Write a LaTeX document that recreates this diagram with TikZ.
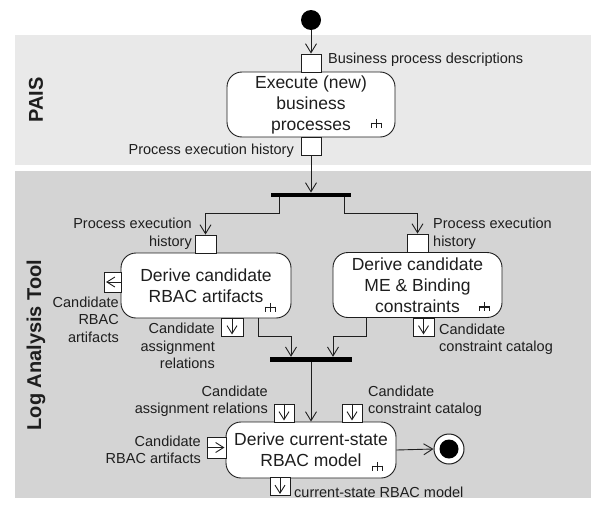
\documentclass[tikz,border=0pt]{standalone}
\usepackage{fontspec}
\setmainfont{Liberation Sans}
\usetikzlibrary{arrows.meta}
\definecolor{bandA}{HTML}{E9E9E9}
\definecolor{bandB}{HTML}{D4D4D4}
\definecolor{ink}{HTML}{1E1E1E}
\newcommand{\nodefnt}{\fontsize{17.5}{21}\selectfont}
\newcommand{\lblfnt}{\fontsize{14.5}{17.5}\selectfont}
\newcommand{\bandfnt}{\bfseries\fontsize{20}{24}\selectfont}
\begin{document}
\begin{tikzpicture}[x=1pt,y=-1pt,
  action/.style={draw=ink, line width=0.9pt, rounded corners=15pt, fill=white,
    align=center, inner sep=0pt, font=\nodefnt, text=ink},
  pinbox/.style={draw=ink, line width=0.9pt, fill=white, inner sep=0pt,
    minimum width=20pt, minimum height=18pt},
  barnode/.style={fill=black, inner sep=0pt, minimum height=5pt},
  lbl/.style={inner sep=0pt, font=\lblfnt, text=ink},
  flow/.style={draw=ink, line width=0.9pt, -{Straight Barb[length=9pt,width=11pt,line width=0.9pt]}},
  pinarrow/.style={draw=ink, line width=0.9pt, -{Straight Barb[length=8pt,width=10pt,line width=0.9pt]}},
  rake/.pic={\draw[ink, line width=1.9pt] (0,-4.5)--(0,4.5) (-5.5,0)--(5.5,0) (-5,-0.9)--(-5,4.5) (5,-0.9)--(5,4.5);}
]
\useasboundingbox (0,0) rectangle (591,506);
% bands
\fill[bandA] (15,35) rectangle (591,165);
\fill[bandB] (15,171) rectangle (591,498);
\draw[white, dashed, line width=0.6pt] (15,167.5) -- (591,167.5);
\node[rotate=90, font=\bandfnt, text=ink] (pais) at (36,100) {PAIS};
\node[rotate=90, font=\bandfnt, text=ink] (lat) at (36,345) {Log Analysis Tool};

% start
\node[circle, fill=black, inner sep=0pt, minimum size=20pt] (start) at (311,20) {};

% execute
\node[action, minimum width=168pt, minimum height=65pt] (exec) at (311,104.5) {Execute (new)\\business\\processes};
\node[pinbox] (execin) at (311,63) {};
\node[pinbox] (execout) at (311,146) {};
\node[lbl, anchor=west] (lbpd) at (328,60) {Business process descriptions};
\node[lbl, anchor=east] (lpeh) at (294,151) {Process execution history};
\pic at ([xshift=-19pt,yshift=14pt]exec.south east) {rake};

% fork
\node[barnode, minimum width=80pt, minimum height=4.5pt] (fork) at (311,195) {};

% RBAC node
\node[action, minimum width=170pt, minimum height=65pt] (rbac) at (206,285.5) {Derive candidate\\RBAC artifacts};
\node[pinbox, minimum width=21pt] (rbacin) at (205.5,244) {};
\node[pinbox, minimum width=17pt, minimum height=20pt] (rbacout) at (112.5,282) {};
\node[pinbox, minimum width=22pt] (rbacrel) at (232,327) {};
\pic at ([xshift=-21pt,yshift=11pt]rbac.south east) {rake};
\node[lbl, anchor=east, align=right] (lrbin) at (192,233.5) {Process execution\\history};
\node[lbl, anchor=east, align=right] (lrbout) at (119,319.5) {Candidate\\RBAC\\artifacts};
\node[lbl, anchor=east, align=right] (lrbrel) at (215,346) {Candidate\\assignment\\relations};

% ME node
\node[action, minimum width=169pt, minimum height=65pt] (me) at (417.5,285) {Derive candidate\\ME \& Binding\\constraints};
\node[pinbox, minimum width=21pt] (mein) at (417.5,243) {};
\node[pinbox, minimum width=21pt] (meout) at (423.5,327) {};
\pic at ([xshift=-18pt,yshift=11pt]me.south east) {rake};
\node[lbl, anchor=west, align=left] (lmein) at (433,233.5) {Process execution\\history};
\node[lbl, anchor=west, align=left] (lmeout) at (439,339) {Candidate\\constraint catalog};

% join
\node[barnode, minimum width=82pt] (join) at (311,359.5) {};

% final action
\node[action, minimum width=170pt, minimum height=56pt] (final) at (311,450) {Derive current-state\\RBAC model};
\node[pinbox] (fin1) at (284,413) {};
\node[pinbox] (fin2) at (352,413) {};
\node[pinbox, minimum width=19pt, minimum height=21pt] (fin3) at (216.5,447.5) {};
\node[pinbox] (fin4) at (280,486.5) {};
\pic at ([xshift=-19pt,yshift=12pt]final.south east) {rake};
\node[lbl, anchor=east, align=right] (lf1) at (268,401) {Candidate\\assignment relations};
\node[lbl, anchor=west, align=left] (lf2) at (368,401) {Candidate\\constraint catalog};
\node[lbl, anchor=east, align=right] (lf3) at (201,450) {Candidate\\RBAC artifacts};
\node[lbl, anchor=west] (lf4) at (294,492) {current-state RBAC model};

% end node
\node[circle, draw=ink, line width=1pt, fill=white, inner sep=0pt, minimum size=30pt] (endnode) at (449,449) {};
\node[circle, fill=black, inner sep=0pt, minimum size=19pt] (enddot) at (endnode.center) {};

% flows
\draw[flow] (start.south) -- (execin.north);
\draw[flow] (execout.south) -- (fork.north);
\draw[flow] ([xshift=-32pt]fork.south) -- ++(0,16) -| (rbacin.north);
\draw[flow] ([xshift=33pt]fork.south) -- ++(0,16) -| (mein.north);
\draw[flow] ([xshift=52pt]rbac.south) -- ++(0,18) -| ([xshift=-20pt]join.north);
\draw[flow] ([xshift=-51.5pt]me.south) -- ++(0,18) -| ([xshift=22pt]join.north);
\draw[flow] (join.south) -- (final.north);
\draw[flow] (final.east) -- (endnode.west);

% arrows inside pins
\draw[pinarrow] (rbacout.east) -- ([xshift=2.5pt]rbacout.west);
\draw[pinarrow] (rbacrel.north) -- ([yshift=2pt]rbacrel.south);
\draw[pinarrow] (meout.north) -- ([yshift=2pt]meout.south);
\draw[pinarrow] (fin1.north) -- ([yshift=2pt]fin1.south);
\draw[pinarrow] (fin2.north) -- ([yshift=2pt]fin2.south);
\draw[pinarrow] (fin3.west) -- ([xshift=-2pt]fin3.east);
\draw[pinarrow] (fin4.north) -- ([yshift=2pt]fin4.south);
\end{tikzpicture}
\end{document}
